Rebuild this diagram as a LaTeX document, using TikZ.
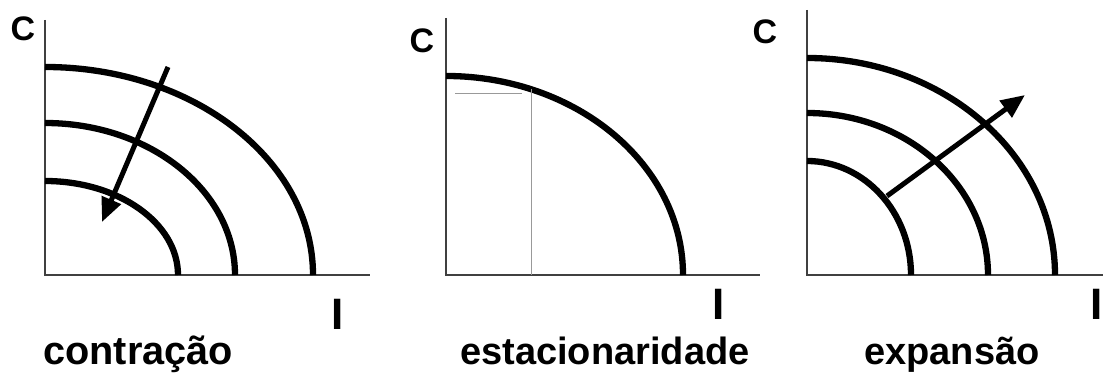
\documentclass[tikz,border=0pt]{standalone}
\usepackage{fontspec}
\setmainfont{Liberation Sans}
\usetikzlibrary{arrows.meta}
\begin{document}
\begin{tikzpicture}[x=1pt,y=1pt,
  axis/.style={line width=1.3pt, black!75},
  curve/.style={line width=6.3pt},
  arr/.style={line width=5pt, -{Triangle[length=24pt,width=20pt]}},
  guide/.style={line width=1pt, black!40},
  axlab/.style={font=\bfseries\fontsize{34}{34}\selectfont, inner sep=0},
  ilab/.style={font=\bfseries\fontsize{44}{44}\selectfont, inner sep=0},
  caption/.style={font=\bfseries\fontsize{38}{38}\selectfont, inner sep=0, anchor=base west}]
\useasboundingbox (0,0) rectangle (1103,382);
% ---------- panel 1: contracao ----------
\coordinate (o1) at (45,107);
\coordinate (y1) at (45,362);
\coordinate (x1) at (370,107);
\draw[axis] (y1) -- (o1) -- (x1);
\draw[curve] (45,315) arc[start angle=90,end angle=0,x radius=268,y radius=208];
\draw[curve] (45,259) arc[start angle=90,end angle=0,x radius=190,y radius=152];
\draw[curve] (45,201) arc[start angle=90,end angle=0,x radius=133,y radius=94];
\coordinate (a1s) at (168,315);
\coordinate (a1e) at (102,160);
\draw[arr] (a1s) -- (a1e);
\node[axlab] (c1) at (23,353) {C};
\node[ilab] (i1) at (338,68) {I};
\node[caption, font=\bfseries\fontsize{39.7}{40}\selectfont] (t1) at (43,17) {contração};
% ---------- panel 2: estacionaridade ----------
\coordinate (o2) at (446,107);
\coordinate (y2) at (446,364);
\coordinate (x2) at (760,107);
\draw[axis] (y2) -- (o2) -- (x2);
\draw[curve] (446,306) arc[start angle=90,end angle=0,x radius=237,y radius=199];
\coordinate (g1) at (455,288);
\coordinate (g2) at (522,288);
\coordinate (g3) at (531,293);
\coordinate (g4) at (531,107);
\draw[guide] (g1) -- (g2);
\draw[guide] (g3) -- (g4);
\node[axlab] (c2) at (422,341) {C};
\node[ilab] (i2) at (719,78) {I};
\node[caption] (t2) at (460,17) {estacionaridade};
% ---------- panel 3: expansao ----------
\coordinate (o3) at (807,107);
\coordinate (y3) at (807,372);
\coordinate (x3) at (1103,107);
\draw[axis] (y3) -- (o3) -- (x3);
\draw[curve] (807,324) arc[start angle=90,end angle=0,x radius=248,y radius=217];
\draw[curve] (807,269) arc[start angle=90,end angle=0,x radius=181,y radius=162];
\draw[curve] (807,221) arc[start angle=90,end angle=0,x radius=104,y radius=114];
\coordinate (a3s) at (887,186);
\coordinate (a3e) at (1025,287);
\draw[arr] (a3s) -- (a3e);
\node[axlab] (c3) at (765,350) {C};
\node[ilab] (i3) at (1097,78) {I};
\node[caption] (t3) at (864,17) {expansão};
\end{tikzpicture}
\end{document}
